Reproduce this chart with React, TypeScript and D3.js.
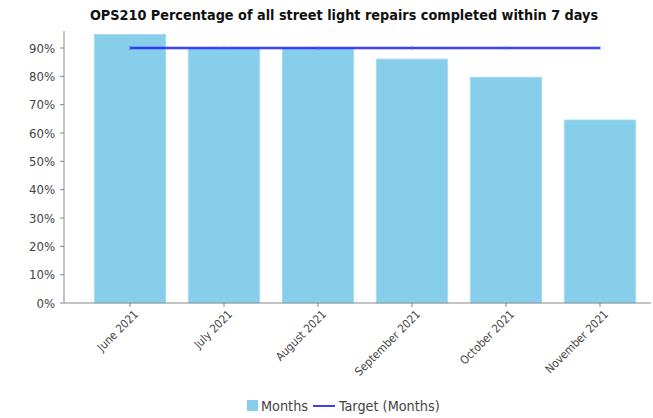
import React from "react";
import * as d3 from "d3";

const categories = ["June 2021", "July 2021", "August 2021", "September 2021", "October 2021", "November 2021"];
const monthsValues = [0.948, 0.898, 0.898, 0.861, 0.797, 0.646];
const targetValues = [0.9, 0.9, 0.9, 0.9, 0.9, 0.9];
const yTickValues = [0, 0.1, 0.2, 0.3, 0.4, 0.5, 0.6, 0.7, 0.8, 0.9];
const title = "OPS210 Percentage of all street light repairs completed within 7 days";

const W = 653;
const H = 418;
const axisLeft = 64;
const axisRight = 651;
const axisBottom = 303;
const axisTop = 31;

const BAR = "#87ceeb";
const LINE = "#1f1fff";
const AXIS = "#8a8a8a";
const TEXT = "#444";
const FONT = "'DejaVu Sans Condensed', 'DejaVu Sans', sans-serif";

export default function App() {
  const x = d3.scaleBand<string>().domain(categories).range([83, 647]).paddingInner(0.24).paddingOuter(0.12);
  const y = d3.scaleLinear().domain([0, 0.96]).range([axisBottom, axisTop]);
  const fmt = d3.format(".0%");
  const cx = (c: string) => (x(c) as number) + x.bandwidth() / 2;

  const line = d3
    .line<number>()
    .x((_, i) => cx(categories[i]))
    .y((d) => y(d));

  return (
    <svg width={W} height={H} style={{ position: "absolute", left: 0, top: 0, background: "#fff" }} fontFamily={FONT}>
      <text x={344} y={20} textAnchor="middle" fontWeight="bold" fontSize={14.3} fill="#111">
        {title}
      </text>

      {/* bars */}
      {categories.map((c, i) => (
        <rect
          key={c}
          x={x(c)}
          y={y(monthsValues[i])}
          width={x.bandwidth()}
          height={axisBottom - y(monthsValues[i])}
          fill={BAR}
          stroke="#a5dbf1"
          strokeWidth={0.8}
        />
      ))}

      {/* target line */}
      <path d={line(targetValues) || ""} fill="none" stroke={LINE} strokeOpacity={0.85} strokeWidth={2.5} />
      {categories.map((c, i) => (
        <line
          key={"m" + c}
          x1={cx(c)}
          x2={cx(c)}
          y1={y(targetValues[i]) - 2}
          y2={y(targetValues[i]) + 2}
          stroke="#6060ff"
          strokeWidth={0.8}
        />
      ))}

      {/* y axis */}
      <line x1={axisLeft} x2={axisLeft} y1={axisTop} y2={axisBottom} stroke={AXIS} strokeWidth={1} />
      {yTickValues.map((t) => (
        <g key={t}>
          <line x1={axisLeft - 4} x2={axisLeft} y1={y(t)} y2={y(t)} stroke={AXIS} />
          <text x={axisLeft - 9} y={y(t)} dy="0.35em" textAnchor="end" fontSize={13} fill={TEXT}>
            {fmt(t)}
          </text>
        </g>
      ))}

      {/* x axis */}
      <line x1={axisLeft} x2={axisRight} y1={axisBottom} y2={axisBottom} stroke={AXIS} strokeWidth={1} />
      {categories.map((c) => (
        <g key={"x" + c}>
          <line x1={cx(c)} x2={cx(c)} y1={axisBottom} y2={axisBottom + 4} stroke={AXIS} />
          <text
            transform={`translate(${cx(c) + 9},${axisBottom + 12}) rotate(-45)`}
            textAnchor="end"
            fontSize={11.5}
            fill={TEXT}
          >
            {c}
          </text>
        </g>
      ))}

      {/* legend */}
      <rect x={247} y={400} width={11} height={11} fill={BAR} />
      <text x={261} y={410.5} fontSize={14.3} fill={TEXT}>
        Months
      </text>
      <line x1={313} x2={335} y1={406} y2={406} stroke="#0000ee" strokeWidth={1.5} />
      <text x={339} y={410.5} fontSize={14.3} fill={TEXT}>
        Target (Months)
      </text>
    </svg>
  );
}
